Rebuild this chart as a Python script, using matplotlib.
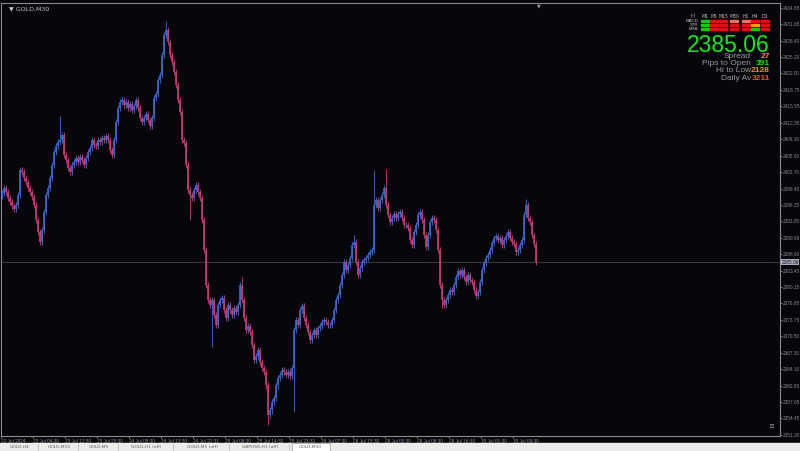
import matplotlib
matplotlib.use("Agg")
from matplotlib import pyplot as plt
import numpy as np

# GOLD M30 closes
closes = [
    2398.6, 2399.6, 2398.8, 2397.6, 2396.8, 2396.0, 2395.4, 2396.2, 2398.2, 2403.1,
    2402.7, 2401.5, 2400.7, 2399.6, 2398.8, 2397.8, 2396.2, 2393.3, 2390.9, 2389.0,
    2391.3, 2394.9, 2398.2, 2399.6, 2401.5, 2404.1, 2406.6, 2407.8, 2408.6, 2409.0,
    2409.9, 2406.0, 2405.0, 2403.5, 2402.7, 2404.1, 2404.6, 2405.4, 2404.6, 2405.6,
    2405.0, 2404.1, 2405.4, 2406.6, 2407.4, 2409.0, 2408.0, 2407.8, 2409.0, 2408.6,
    2409.4, 2409.0, 2409.7, 2409.0, 2407.0, 2406.0, 2409.0, 2412.5, 2415.2, 2416.4,
    2416.8, 2415.8, 2416.4, 2415.2, 2416.0, 2414.8, 2415.6, 2416.8, 2415.2, 2413.3,
    2412.5, 2413.3, 2414.1, 2412.9, 2411.7, 2413.3, 2417.2, 2418.0, 2420.7, 2421.7,
    2425.6, 2429.5, 2430.5, 2428.2, 2425.6, 2424.3, 2422.3, 2419.7, 2416.8, 2414.5,
    2409.0, 2408.4, 2404.1, 2399.2, 2398.2, 2397.6, 2399.2, 2400.1, 2398.8, 2397.6,
    2393.3, 2387.4, 2380.5, 2377.6, 2376.6, 2377.6, 2374.7, 2372.7, 2376.6, 2377.6,
    2378.0, 2375.6, 2374.1, 2376.6, 2375.6, 2374.7, 2376.0, 2375.2, 2376.6, 2380.5,
    2377.6, 2374.1, 2371.7, 2372.5, 2371.3, 2368.8, 2365.8, 2366.6, 2367.8, 2365.4,
    2364.3, 2363.5, 2360.9, 2355.1, 2356.0, 2357.6, 2358.4, 2360.9, 2362.3, 2362.9,
    2363.9, 2363.5, 2362.9, 2363.5, 2362.7, 2364.3, 2371.7, 2373.7, 2372.7, 2375.6,
    2376.4, 2374.1, 2372.7, 2371.3, 2369.8, 2370.7, 2371.7, 2370.7, 2372.1, 2372.5,
    2373.3, 2373.7, 2373.3, 2372.7, 2372.7, 2373.7, 2375.6, 2377.6, 2378.6, 2380.5,
    2382.5, 2385.0, 2383.5, 2384.5, 2385.8, 2388.4, 2389.0, 2385.0, 2382.5, 2383.9,
    2385.0, 2385.4, 2385.8, 2386.4, 2387.0, 2387.4, 2396.2, 2397.2, 2395.6, 2397.2,
    2398.2, 2399.6, 2396.2, 2394.3, 2392.9, 2393.7, 2394.5, 2393.7, 2394.5, 2394.9,
    2393.7, 2392.3, 2392.3, 2391.7, 2389.4, 2388.4, 2390.9, 2392.3, 2394.3, 2394.9,
    2393.3, 2390.3, 2388.0, 2390.3, 2392.9, 2393.7, 2393.3, 2391.3, 2387.4, 2380.5,
    2377.6, 2376.6, 2377.6, 2378.6, 2379.6, 2379.2, 2380.5, 2382.1, 2383.3, 2382.5,
    2383.5, 2382.1, 2381.1, 2382.5, 2381.5, 2381.1, 2379.6, 2378.4, 2379.2, 2381.1,
    2383.5, 2384.8, 2385.8, 2386.4, 2387.4, 2388.8, 2389.8, 2390.1, 2389.4, 2389.8,
    2388.4, 2389.4, 2390.1, 2390.9, 2389.8, 2389.0, 2388.6, 2387.0, 2387.4, 2388.4,
    2389.4, 2394.3, 2396.2, 2393.7, 2392.9, 2390.3, 2388.6, 2385.06,
]
first_open = 2398.0

# long wicks that stand out on the chart (bar index: price)
spike_highs = {29: 2413.6, 82: 2432.3, 120: 2382.1, 176: 2390.3, 186: 2403.1,
               192: 2403.2, 262: 2397.4}
spike_lows = {19: 2388.4, 94: 2393.3, 105: 2368.5, 133: 2353.2, 146: 2355.7,
              220: 2376.0}

price_ticks = [2434.85, 2431.65, 2428.40, 2425.20, 2422.00, 2418.75, 2415.55,
               2412.35, 2409.10, 2405.90, 2402.70, 2399.45, 2396.25, 2393.05,
               2389.80, 2386.60, 2383.40, 2380.15, 2376.95, 2373.75, 2370.50,
               2367.30, 2364.10, 2360.85, 2357.65, 2354.45, 2351.20]
time_labels = ["22 Jul 2024", "23 Jul 04:30", "23 Jul 12:30", "23 Jul 20:30",
               "24 Jul 05:30", "24 Jul 13:30", "24 Jul 22:31", "25 Jul 06:30",
               "25 Jul 14:30", "25 Jul 23:31", "26 Jul 07:30", "26 Jul 15:30",
               "29 Jul 00:30", "29 Jul 08:30", "29 Jul 16:30", "30 Jul 01:30",
               "30 Jul 09:30"]
current_price = 2385.06

# indicator panel
tf_names = ["M1", "M5", "M15", "M30", "H1", "H4", "D1"]
row_names = ["MACD", "STR", "EMA"]
cell_colors = [
    ["#18c818", "#e01010", "#e01010", "#f07060", "#f07060", "#e01010", "#e01010"],
    ["#18c818", "#e01010", "#e01010", "#e01010", "#e01010", "#f0a010", "#e01010"],
    ["#18c818", "#e01010", "#e01010", "#e01010", "#e01010", "#18c818", "#e01010"],
]
info_labels = ["Spread", "Pips to Open", "Hi to Low", "Daily Av"]
info_values = ["27", "391", "2128", "3211"]
info_colors = ["#f09010", "#20e020", "#f09010", "#f05010"]

tabs = ["GOLD,H4", "GOLD,M15", "GOLD,M5", "GOLD,H1 (off)", "GOLD,M1 (off)",
        "GBPUSD,H1 (off)", "GOLD,M30"]

bg = "#07070b"
axis_col = "#8a8a96"
bull = "#3d6cd0"
bear = "#c63e78"
small_font = "Liberation Sans"

closes = np.array(closes)
opens = np.concatenate([[first_open], closes[:-1]])
idx = np.arange(len(closes))
highs = np.maximum(opens, closes) + 0.6
lows = np.minimum(opens, closes) - 0.6
for k, v in spike_highs.items():
    highs[k] = v
for k, v in spike_lows.items():
    lows[k] = v
colors = np.where(closes >= opens, bull, bear)

fig = plt.figure(figsize=(8, 4.51), dpi=100, facecolor=bg)
ax = fig.add_axes([1 / 800, 15 / 451, 779 / 800, 433 / 451], facecolor=bg)

ax.axhline(current_price, color="#3a3a40", lw=0.7, zorder=1)
ax.vlines(idx, lows, highs, colors=colors, lw=0.6, zorder=2)
ax.vlines(idx, np.minimum(opens, closes), np.maximum(opens, closes),
          colors=colors, lw=1.2, zorder=3)

ax.set_xlim(-0.5, 389)
ax.set_ylim(2351.0, 2435.8)

for s in ax.spines.values():
    s.set_color(axis_col)
    s.set_linewidth(0.8)

ax.yaxis.tick_right()
ax.set_yticks(price_ticks)
ax.set_yticklabels([f"{p:.2f}" for p in price_ticks], family=small_font)
ax.tick_params(axis="y", colors=axis_col, labelsize=3.4, length=1.5, width=0.6, pad=0.6)

ax.set_xticks(np.arange(len(time_labels)) * 16 - 0.5)
ax.set_xticklabels(time_labels, family=small_font)
ax.tick_params(axis="x", colors=axis_col, labelsize=3.4, length=1.5, width=0.6, pad=0.5)
for lab in ax.get_xticklabels():
    lab.set_horizontalalignment("left")

# current price tag on the price scale
ax.text(1.002, current_price, f"{current_price:.2f}", transform=ax.get_yaxis_transform(),
        fontsize=3.4, color="#101018", va="center", ha="left", family=small_font,
        bbox=dict(boxstyle="square,pad=0.12", fc="#a8acbc", ec="none"), clip_on=False)

ax.text(0.01, 0.993, "\u25bc GOLD,M30", transform=ax.transAxes, fontsize=4.5,
        color="#c8c8d0", va="top", ha="left")
ax.text(0.69, 1.0, "\u25bc", transform=ax.transAxes, fontsize=3.5,
        color="#9a9aa6", va="top", ha="center")
ax.text(0.993, 0.015, "\u2261", transform=ax.transAxes, fontsize=5,
        color="#9a9aa6", va="bottom", ha="right")

# indicator panel, placed in figure pixels
def fx(px):
    return px / 800


def fy(py):
    return 1 - py / 451


fig.text(fx(693), fy(16), "(-)", fontsize=3.3, color="#c0c0c0", ha="center", va="center")
tf_x = [705, 714, 723, 734, 746, 755, 765]
for x, n in zip(tf_x, tf_names):
    fig.text(fx(x), fy(16), n, fontsize=3.3, color="#c0c0c0", ha="center", va="center")
row_y = [21, 25, 29]
for r, (y, name) in enumerate(zip(row_y, row_names)):
    fig.text(fx(698), fy(y), name, fontsize=3.2, color="#c0c0c0", ha="right", va="center")
    for x, c in zip(tf_x, cell_colors[r]):
        fig.patches.append(plt.Rectangle((fx(x - 4), fy(y + 1.3)), fx(8), 2.6 / 451,
                                         transform=fig.transFigure, color=c))

fig.text(fx(770), fy(51.5), f"{current_price:.2f}", fontsize=16.5, color="#19e619",
         ha="right", va="baseline", family="Liberation Sans")
info_y = [57, 63.5, 70.5, 78]
for y, lab, val, col in zip(info_y, info_labels, info_values, info_colors):
    fig.text(fx(751), fy(y), lab, fontsize=6.0, color="#9a9a9a", ha="right",
             va="center", family="Liberation Sans")
    fig.text(fx(770), fy(y), val, fontsize=6.0, color=col, ha="right", va="center",
             family="Liberation Sans", weight="bold")

# bottom tab bar
fig.patches.append(plt.Rectangle((0, 0), 1, 8 / 451, transform=fig.transFigure,
                                 color="#ececec"))
tab_edges = [0, 38, 78, 118, 173, 229, 289, 330]
for i, name in enumerate(tabs):
    x0, x1 = tab_edges[i], tab_edges[i + 1]
    if i == len(tabs) - 1:
        fig.patches.append(plt.Rectangle((fx(x0 + 3), 0), fx(x1 - x0 - 3), 8 / 451,
                                         transform=fig.transFigure, fc="white",
                                         ec="#9a9a9a", lw=0.5))
    else:
        fig.lines.append(plt.Line2D([fx(x1), fx(x1)], [1 / 451, 7 / 451],
                                    transform=fig.transFigure, color="#b0b0b0", lw=0.5))
    fig.text(fx((x0 + x1) / 2 + 1), 3.5 / 451, name, fontsize=3.2, color="#606060",
             ha="center", va="center")

fig.savefig("out.png", dpi=100, facecolor=bg)
